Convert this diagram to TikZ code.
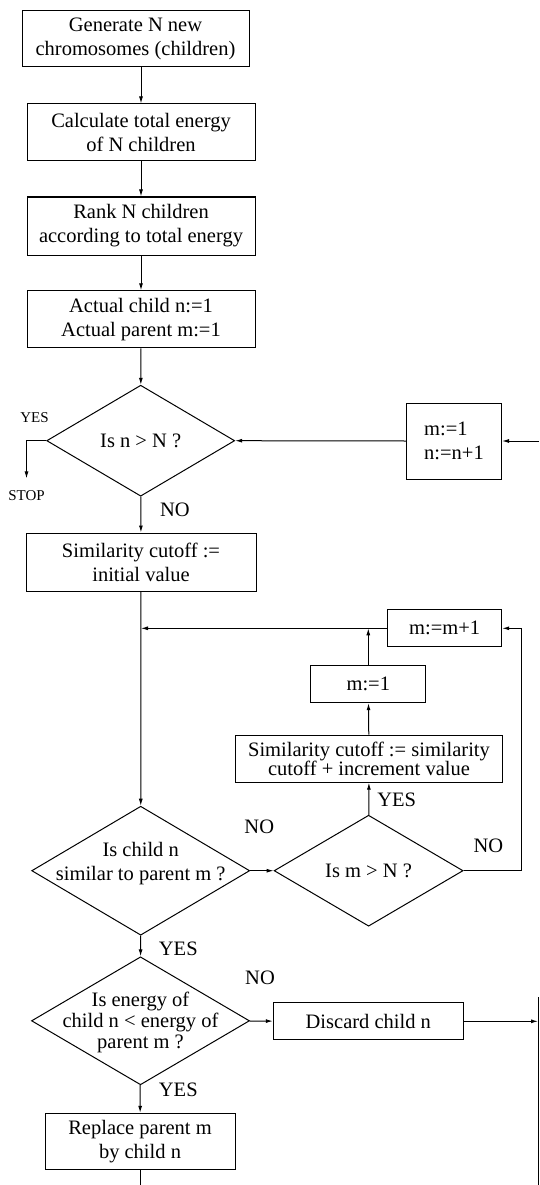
\documentclass[tikz,border=0pt]{standalone}
\usepackage{fontspec}
\setmainfont{Liberation Serif}
\usetikzlibrary{
  calc,
  arrows.meta,
  shapes.geometric
}
\tikzset{
>={Latex[length=7pt,width=4pt]},
box/.style={draw, align=center, inner sep=0pt},
decision/.style={draw, diamond, inner sep=0pt},
words/.style={align=center, inner sep=0pt},
tag/.style={inner sep=0pt},
small/.style={inner sep=0pt, font=\fontsize{15}{18}\selectfont}
}

\begin{document}
\begin{tikzpicture}[x=1pt, y=-1pt, line width=1pt, font=\fontsize{20.5}{24}\selectfont]
 \useasboundingbox (0,0) rectangle (539,1185);
 \node[box, minimum width=227pt, minimum height=56pt] (gen) at (135.5,39) {Generate N new\\chromosomes (children)};
 \node[box, minimum width=228pt, minimum height=57pt] (calc) at (141,132.5) {Calculate total energy\\of N children};
 \node[box, minimum width=228pt, minimum height=58pt] (rank) at (141,226) {Rank N children\\according to total energy};
 \node[box, minimum width=228pt, minimum height=57pt] (init) at (141,319.3) {Actual child n:=1\\Actual parent m:=1};
 \node[decision, minimum width=188pt, minimum height=111pt] (isn) at (140.7,440.7) {};
 \node[words] (isn-t) at (140.7,441) {Is n > N ?};
 \node[box, align=left, minimum width=95pt, minimum height=76pt] (reset) at (454,441) {m:=1\\n:=n+1};
 \node[small] (yes0) at (34.5,418) {YES};
 \node[small] (stop) at (26.5,496) {STOP};
 \node[tag] (no1) at (175,510) {NO};
 \node[box, minimum width=230pt, minimum height=58pt] (cutoff) at (141,562) {Similarity cutoff :=\\initial value};
 \node[box, minimum width=114pt, minimum height=37pt] (incm) at (444.7,628.3) {m:=m+1};
 \node[box, minimum width=115pt, minimum height=37pt] (resetm) at (368.3,684.2) {m:=1};
 \node[box, minimum width=267pt, minimum height=47pt, font=\fontsize{20.5}{19}\selectfont] (raise) at (369,758.7) {Similarity cutoff := similarity\\cutoff + increment value};
 \node[tag] (yes3) at (396.7,800) {YES};
 \node[decision, minimum width=218pt, minimum height=129pt] (similar) at (140.7,870.7) {};
 \node[words] (similar-t) at (140.7,864) {Is child n\\similar to parent m ?};
 \node[decision, minimum width=189pt, minimum height=111pt] (ism) at (368.6,870.7) {};
 \node[words] (ism-t) at (368.6,871) {Is m > N ?};
 \node[tag] (no2) at (259.3,827.3) {NO};
 \node[tag] (no3) at (488.3,845.7) {NO};
 \node[tag] (yes2) at (178.3,948.5) {YES};
 \node[decision, minimum width=218pt, minimum height=128pt] (lower) at (140.5,1020.8) {};
 \node[words, font=\fontsize{20.5}{21}\selectfont] (lower-t) at (140.5,1022) {Is energy of\\child n < energy of\\parent m ?};
 \node[tag] (no4) at (260,977.7) {NO};
 \node[box, minimum width=190pt, minimum height=37pt] (discard) at (368.3,1021.3) {Discard child n};
 \node[tag] (yes4) at (178.3,1089.3) {YES};
 \node[box, minimum width=190pt, minimum height=56pt] (replace) at (140,1141.3) {Replace parent m\\by child n};
 \coordinate (back) at (539,441);
 \coordinate (rloop) at (521.7,870.7);
 \coordinate (edgetop) at (538,997);
 \coordinate (edgebot) at (538,1185);
 \coordinate (join) at (cutoff.south |- incm.west);
 \coordinate (joinm) at (resetm.north |- incm.west);
 \draw[->] (calc.north |- gen.south) -- (calc.north);
 \draw[->] (calc) -- (rank);
 \draw[->] (rank) -- (init);
 \draw[->] (init) -- (isn);
 \draw[->, shorten >=12pt] (isn.west) -| (stop.north);
 \draw[->] (back) -- (reset.east);
 \draw[->] (reset.west) -- (isn.east);
 \draw[->] (isn) -- (cutoff);
 \draw[->] (cutoff) -- (similar);
 \draw[->] (incm.west) -- (join);
 \draw[->] (resetm) -- (joinm);
 \draw[->] (raise) -- (resetm);
 \draw[->] (ism) -- (raise);
 \draw[->] (similar) -- (ism);
 \draw[->] (ism.east) -- (rloop) |- (incm.east);
 \draw[->] (similar) -- (lower);
 \draw[->] (lower) -- (discard);
 \draw[->] (discard.east) -- (discard.east -| edgetop);
 \draw (edgetop) -- (edgebot);
 \draw[->] (lower) -- (replace);
 \draw (replace.south) -- (replace.south |- edgebot);
\end{tikzpicture}
\end{document}
